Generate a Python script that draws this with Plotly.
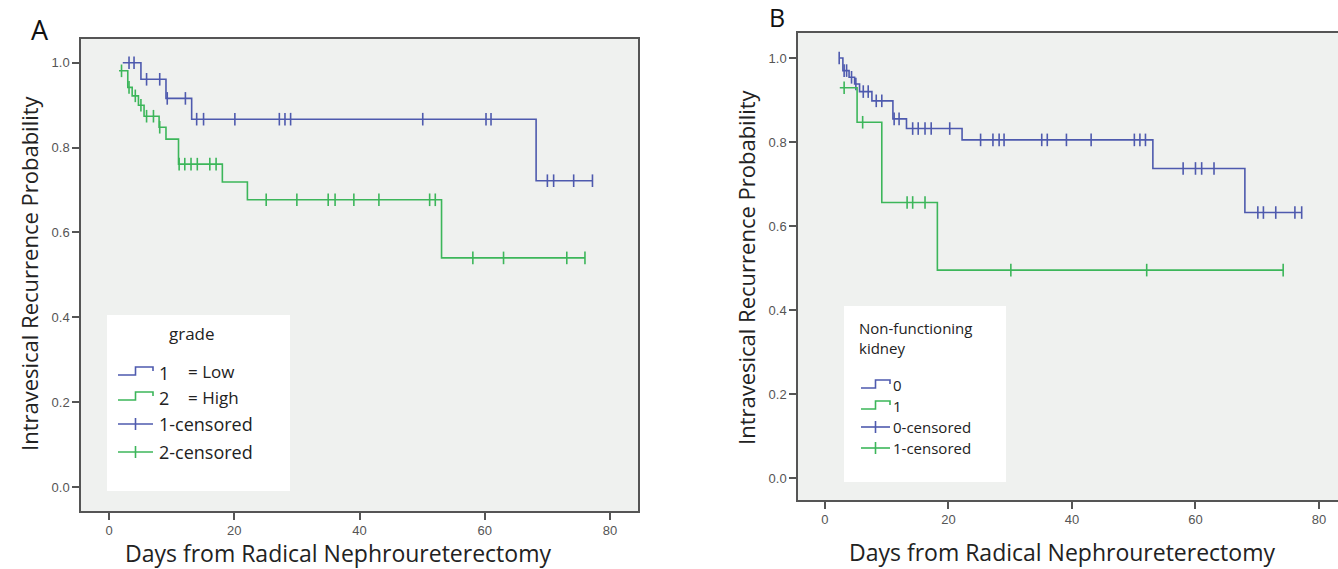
import numpy as np
import plotly.graph_objects as go

W, H = 1338, 569
BLUE = "#4E5AAE"
GREEN = "#3CB65A"

# ---------------- data: panel A (grade) ----------------
A_low_start_day, A_low_start_surv = 2.2, 1.0
A_low_event_days = [5.1, 9.1, 13.2, 68.2]
A_low_event_surv = [0.961, 0.916, 0.867, 0.722]
A_low_censor_days = [3.2, 4.0, 6.0, 8.1, 9.3, 12.2, 14.0, 15.1, 20.1, 27.2, 28.1, 29.0,
                     50.1, 60.2, 61.0, 70.0, 71.0, 74.2, 77.2]

A_high_start_day, A_high_start_surv = 1.6, 0.981
A_high_event_days = [3.0, 3.7, 4.7, 5.6, 8.0, 9.1, 11.1, 18.1, 22.1, 53.1]
A_high_event_surv = [0.942, 0.922, 0.900, 0.874, 0.848, 0.820, 0.761, 0.719, 0.677, 0.540]
A_high_censor_days = [2.0, 3.2, 4.2, 5.1, 6.0, 7.1, 8.1, 11.2, 12.1, 13.1, 14.1, 16.1, 17.1,
                      25.1, 30.0, 35.0, 36.1, 39.1, 43.1, 51.2, 52.1, 58.1, 63.0, 73.1, 76.0]

# ---------------- data: panel B (non-functioning kidney) ----------------
B_0_start_day, B_0_start_surv = 2.3, 1.0
B_0_event_days = [2.9, 3.9, 4.8, 5.6, 7.6, 11.0, 13.2, 22.2, 53.1, 68.0]
B_0_event_surv = [0.970, 0.954, 0.938, 0.920, 0.898, 0.855, 0.832, 0.805, 0.737, 0.632]
B_0_censor_days = [2.3, 3.1, 3.5, 4.3, 5.0, 6.2, 7.0, 8.3, 9.2, 11.2, 12.0, 14.2, 15.1, 16.2,
                   17.2, 20.2, 25.2, 27.2, 28.2, 29.0, 35.1, 36.0, 39.1, 43.1, 50.1, 51.0,
                   51.9, 58.0, 60.0, 61.0, 63.0, 70.1, 71.0, 73.0, 76.1, 77.2]

B_1_start_day, B_1_start_surv = 2.4, 0.929
B_1_event_days = [5.2, 9.2, 18.2]
B_1_event_surv = [0.847, 0.656, 0.495]
B_1_censor_days = [3.1, 6.1, 13.3, 14.2, 16.2, 30.1, 52.1, 74.2]

x_ticks = [0, 20, 40, 60, 80]
y_ticks = [0.0, 0.2, 0.4, 0.6, 0.8, 1.0]
y_tick_text = ["0.0", "0.2", "0.4", "0.6", "0.8", "1.0"]

legend_A_title = "grade"
legend_A_codes = ["1", "2"]
legend_A_labels = ["= Low", "= High"]
legend_A_cens = ["1-censored", "2-censored"]
legend_B_title = "Non-functioning<br>kidney"
legend_B_items = ["0", "1", "0-censored", "1-censored"]


def px(x):
    return x / W


def py(y):
    return 1 - y / H


def km_traces(start_d, start_s, ev_d, ev_s, cens_d, color, xa, ya):
    end_d = max(cens_d + ev_d)
    xs = [start_d] + ev_d + [end_d]
    ys = [start_s] + ev_s + [ev_s[-1]]
    line = go.Scatter(x=xs, y=ys, mode="lines", line=dict(color=color, width=1.6, shape="hv"),
                      xaxis=xa, yaxis=ya, showlegend=False, hoverinfo="skip")
    ed = np.array([start_d] + ev_d)
    es = np.array([start_s] + ev_s)
    idx = np.searchsorted(ed, np.array(cens_d), side="right") - 1
    idx = np.clip(idx, 0, None)
    cy = es[idx]
    cens = go.Scatter(x=cens_d, y=cy, mode="markers",
                      marker=dict(symbol="line-ns", size=9, line=dict(color=color, width=1.6)),
                      xaxis=xa, yaxis=ya, showlegend=False, hoverinfo="skip")
    return [line, cens]


fig = go.Figure()
for t in km_traces(A_low_start_day, A_low_start_surv, A_low_event_days, A_low_event_surv,
                   A_low_censor_days, BLUE, "x", "y"):
    fig.add_trace(t)
for t in km_traces(A_high_start_day, A_high_start_surv, A_high_event_days, A_high_event_surv,
                   A_high_censor_days, GREEN, "x", "y"):
    fig.add_trace(t)
for t in km_traces(B_0_start_day, B_0_start_surv, B_0_event_days, B_0_event_surv,
                   B_0_censor_days, BLUE, "x2", "y2"):
    fig.add_trace(t)
for t in km_traces(B_1_start_day, B_1_start_surv, B_1_event_days, B_1_event_surv,
                   B_1_censor_days, GREEN, "x2", "y2"):
    fig.add_trace(t)

tickfont = dict(family="Liberation Sans, Arial, sans-serif", size=13, color="#555555")
axis_common = dict(showgrid=False, zeroline=False, showline=True, linecolor="#555555",
                   linewidth=1.5, ticks="outside", ticklen=7, tickwidth=1.5,
                   tickcolor="#555555", tickfont=tickfont)

fig.update_layout(
    width=W, height=H,
    margin=dict(l=0, r=0, t=0, b=0),
    paper_bgcolor="white",
    plot_bgcolor="#EFF1EF",
    showlegend=False,
    xaxis=dict(domain=[px(81), px(638)], range=[-4.47, 84.47], anchor="y",
               tickvals=x_ticks, mirror=True, **axis_common),
    yaxis=dict(domain=[py(511), py(39)], range=[-0.0566, 1.056], anchor="x",
               tickvals=y_ticks, ticktext=y_tick_text, mirror=True, **axis_common),
    xaxis2=dict(domain=[px(798), 1.0], range=[-4.37, 83.08], anchor="y2",
                tickvals=x_ticks, mirror=True, **axis_common),
    yaxis2=dict(domain=[py(500), py(33)], range=[-0.0524, 1.0595], anchor="x2",
                tickvals=y_ticks, ticktext=y_tick_text, mirror=False, **axis_common),
)

shapes = []
annotations = []


def text(x, y, s, size, xanchor="center", yanchor="middle", angle=0, color="#222222",
         family="Open Sans, sans-serif", align="center"):
    annotations.append(dict(x=px(x), y=py(y), xref="paper", yref="paper", text=s,
                            showarrow=False, xanchor=xanchor, yanchor=yanchor, textangle=angle,
                            align=align, font=dict(family=family, size=size, color=color)))


# panel letters
text(40, 30, "A", 27, color="#111111")
text(777, 17, "B", 25, color="#111111")
# axis titles
text(338, 553, "Days from Radical Nephroureterectomy", 23)
text(1062, 552, "Days from Radical Nephroureterectomy", 23)
text(29, 273, "Intravesical Recurrence Probability", 22, angle=-90)
text(746, 267, "Intravesical Recurrence Probability", 22, angle=-90)


def legend_box(x0, y0, x1, y1):
    shapes.append(dict(type="rect", xref="paper", yref="paper", x0=px(x0), x1=px(x1),
                       y0=py(y1), y1=py(y0), fillcolor="white", line=dict(width=0), layer="above"))


def step_icon(x0, x1, ry, c):
    mid = (x0 + x1) / 2
    path = (f"M {px(x0)} {py(ry + 3)} L {px(mid)} {py(ry + 3)} L {px(mid)} {py(ry - 5)} "
            f"L {px(x1)} {py(ry - 5)} L {px(x1)} {py(ry - 1)}")
    shapes.append(dict(type="path", xref="paper", yref="paper", path=path,
                       line=dict(color=c, width=1.6), layer="above"))


def cross_icon(x0, x1, ry, c):
    mid = (x0 + x1) / 2
    shapes.append(dict(type="line", xref="paper", yref="paper", x0=px(x0), x1=px(x1),
                       y0=py(ry), y1=py(ry), line=dict(color=c, width=1.6), layer="above"))
    shapes.append(dict(type="line", xref="paper", yref="paper", x0=px(mid), x1=px(mid),
                       y0=py(ry - 6), y1=py(ry + 6), line=dict(color=c, width=1.6), layer="above"))


# legend A
legend_box(107, 315, 290, 491)
text(192, 333, legend_A_title, 17)
rowsA = [372, 397, 424, 452]
colsA = [BLUE, GREEN]
for i in range(2):
    step_icon(118, 153, rowsA[i], colsA[i])
    text(157, rowsA[i] + 1, legend_A_codes[i], 18, xanchor="left")
    text(186, rowsA[i], legend_A_labels[i], 17, xanchor="left")
for i in range(2):
    cross_icon(118, 153, rowsA[i + 2], colsA[i])
    text(157, rowsA[i + 2], legend_A_cens[i], 18, xanchor="left")

# legend B
legend_box(844, 306, 1006, 482)
text(857, 338, legend_B_title, 15, xanchor="left", align="left")
rowsB = [385, 406, 427, 448]
colsB = [BLUE, GREEN, BLUE, GREEN]
for i in range(4):
    if i < 2:
        step_icon(861, 890, rowsB[i], colsB[i])
    else:
        cross_icon(861, 890, rowsB[i], colsB[i])
    text(891, rowsB[i], legend_B_items[i], 15, xanchor="left")

fig.update_layout(shapes=shapes, annotations=annotations)
fig.write_html("out.html", config={"displayModeBar": False},
               post_script="document.body.style.margin='0';document.body.style.overflow='hidden';")
